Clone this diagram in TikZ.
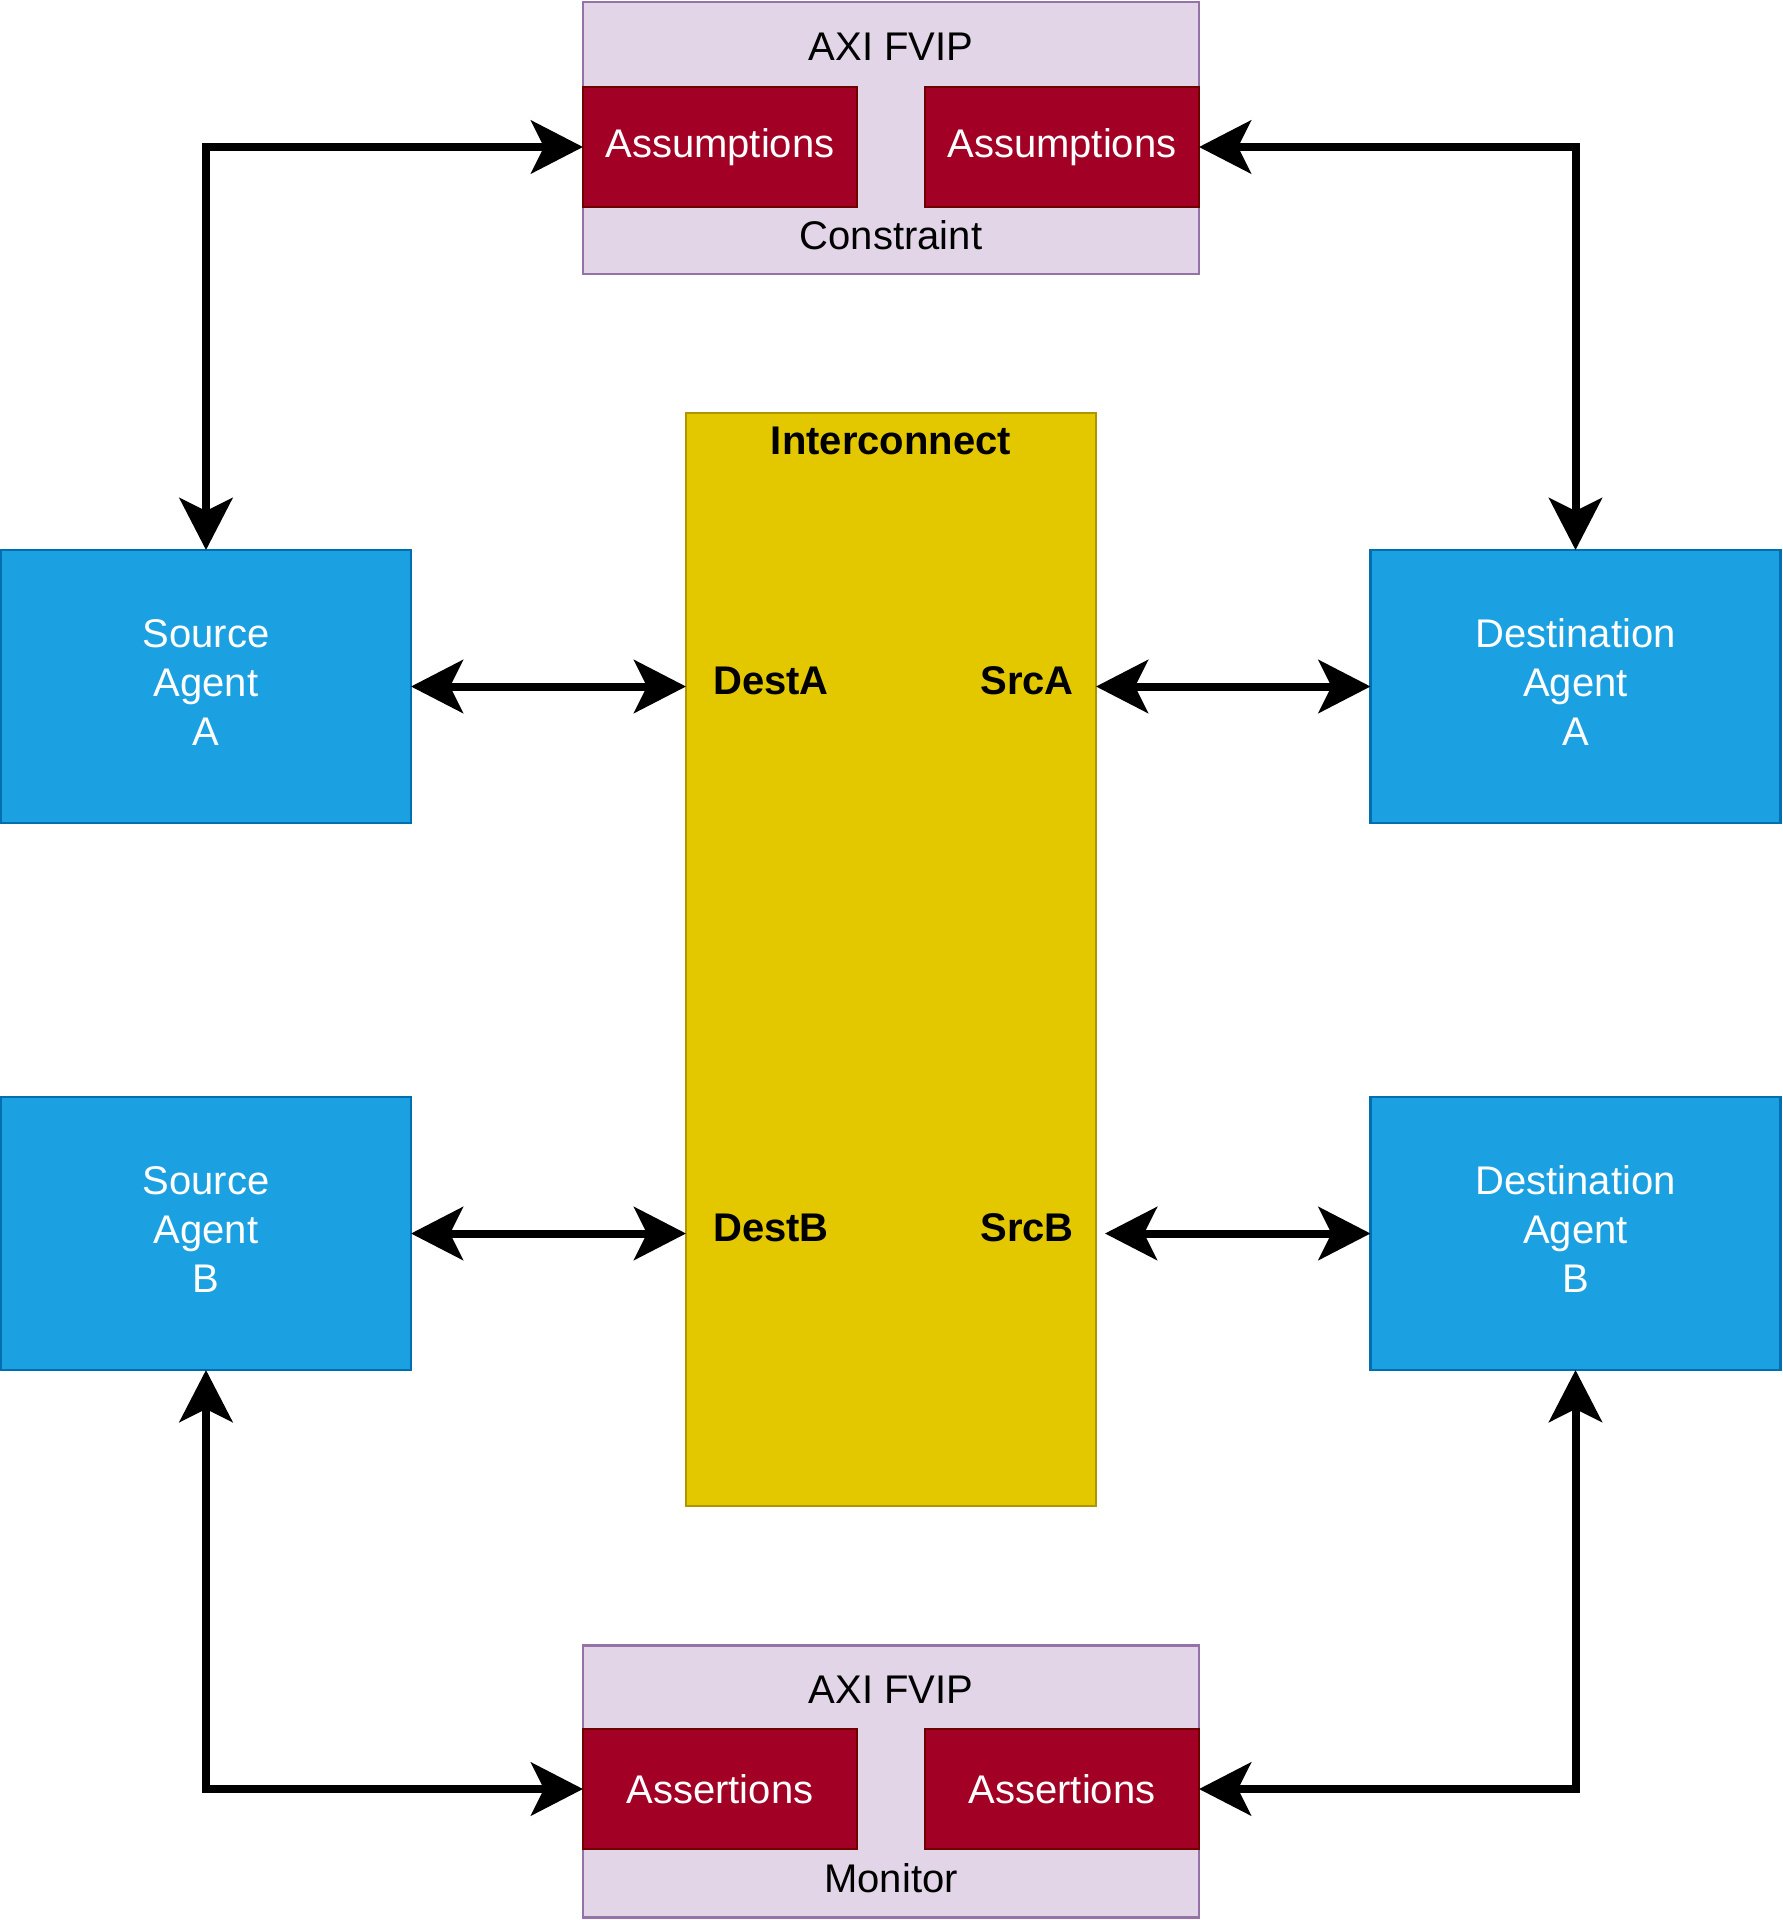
\documentclass[tikz,border=0pt]{standalone}
\usepackage{fontspec}
\setmainfont{Liberation Sans}
\usetikzlibrary{arrows.meta}
\definecolor{agentfill}{HTML}{1BA1E2}
\definecolor{agentdraw}{HTML}{006EAF}
\definecolor{icfill}{HTML}{E3C800}
\definecolor{icdraw}{HTML}{B09500}
\definecolor{fvipfill}{HTML}{E1D5E7}
\definecolor{fvipdraw}{HTML}{9673A6}
\definecolor{redfill}{HTML}{A20025}
\definecolor{reddraw}{HTML}{6F0000}
\newcommand{\agtext}[1]{\raisebox{6pt}{\begin{tabular}{@{}c@{}}#1\end{tabular}}}
\tikzset{
  box/.style={rectangle, inner sep=0pt, outer sep=0pt, line width=2.5pt, align=center,
    font=\fontsize{40}{49}\selectfont},
  agent/.style={box, fill=agentfill, draw=agentdraw, text=white, minimum width=410pt, minimum height=273pt},
  fvip/.style={box, fill=fvipfill, draw=fvipdraw, minimum width=616pt, minimum height=272pt},
  redbox/.style={box, fill=redfill, draw=reddraw, text=white, minimum width=274pt, minimum height=120pt},
  icbox/.style={box, fill=icfill, draw=icdraw, minimum width=410pt, minimum height=1093pt},
  lbl/.style={inner sep=0pt, font=\fontsize{40}{49}\selectfont},
  blbl/.style={inner sep=0pt, font=\fontsize{40}{49}\selectfont\bfseries},
  conn/.style={line width=8pt, {Stealth[length=52pt,width=53pt,inset=13pt]}-{Stealth[length=52pt,width=53pt,inset=13pt]}}
}
\begin{document}
\begin{tikzpicture}[x=1pt,y=-1pt]
\useasboundingbox (0,0) rectangle (1783,1920);
% top FVIP
\node[fvip] (topF) at (891,138) {};
\node[lbl] (topT) at (891,47) {AXI FVIP};
\node[lbl] (topC) at (891,235) {Constraint};
\node[redbox] (asL) at (720,147) {Assumptions};
\node[redbox] (asR) at (1062,147) {Assumptions};
% bottom FVIP
\node[fvip] (botF) at (891,1781.5) {};
\node[lbl] (botT) at (891,1690) {AXI FVIP};
\node[lbl] (botM) at (891,1878) {Monitor};
\node[redbox] (aeL) at (720,1789) {Assertions};
\node[redbox] (aeR) at (1062,1789) {Assertions};
% interconnect
\node[icbox] (ic) at (891,959.5) {};
\node[blbl] (icT) at (891,441) {Interconnect};
\node[blbl] (destA) at (771,681) {DestA};
\node[blbl] (srcA) at (1027,681) {SrcA};
\node[blbl] (destB) at (771,1228) {DestB};
\node[blbl] (srcB) at (1027,1228) {SrcB};
% agents
\node[agent] (sa) at (206,686.5) {\agtext{Source\\Agent\\A}};
\node[agent] (da) at (1575.5,686.5) {\agtext{Destination\\Agent\\A}};
\node[agent] (sb) at (206,1233.5) {\agtext{Source\\Agent\\B}};
\node[agent] (db) at (1575.5,1233.5) {\agtext{Destination\\Agent\\B}};
% connectors
\draw[conn] (asL.west) -| (sa.north);
\draw[conn] (asR.east) -| (da.north);
\draw[conn] (sa.east) -- (ic.west |- sa.east);
\draw[conn] (ic.east |- da.west) -- (da.west);
\draw[conn] (sb.east) -- (ic.west |- sb.east);
\draw[conn, shorten <=9pt] (ic.east |- db.west) -- (db.west);
\draw[conn] (sb.south) |- (aeL.west);
\draw[conn] (db.south) |- (aeR.east);
\end{tikzpicture}
\end{document}
